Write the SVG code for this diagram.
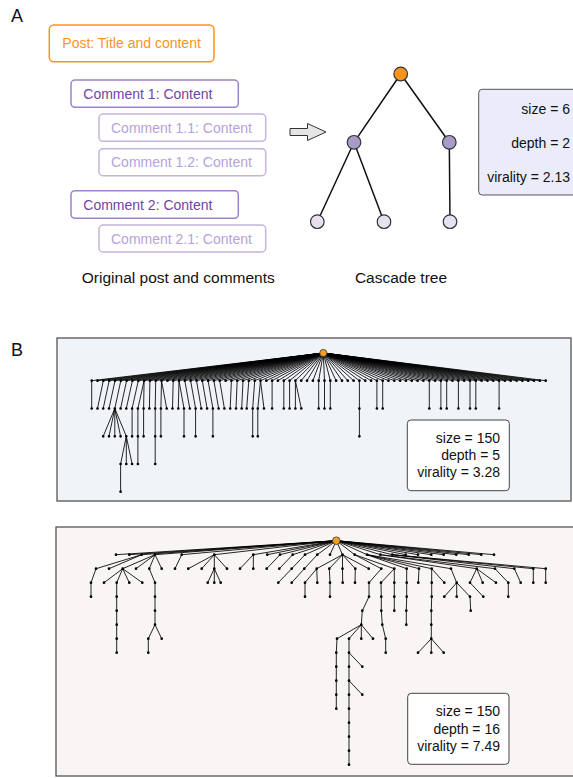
<svg xmlns="http://www.w3.org/2000/svg" width="573" height="778" viewBox="0 0 573 778">
<style>
text{font-family:"Liberation Sans",Arial,Helvetica,sans-serif;}
.lbl{font-size:18px;fill:#111;}
.cap{font-size:15.5px;fill:#111;}
.boxtxt{font-size:14px;}
.stat{font-size:14px;fill:#111;text-anchor:end;}
.post{fill:#fff;stroke:#f7941d;stroke-width:1.5;}
.cm1{fill:#fff;stroke:#9d82c8;stroke-width:1.5;}
.cm2{fill:#fff;stroke:#c3b4e0;stroke-width:1.5;}
.tA{stroke:#111;stroke-width:1.5;fill:none;}
.nA{stroke:#333;stroke-width:1.2;}
.e{stroke:#000;stroke-width:0.95;stroke-opacity:0.9;fill:none;}
.dots{stroke:#000;stroke-width:2.7;stroke-linecap:round;fill:none;}
.rootB{fill:#f7a01b;stroke:#333;stroke-width:0.8;}
.sbox{fill:#fff;stroke:#444;stroke-width:1;}
</style>

<!-- Panel labels -->
<text class="lbl" x="11" y="22">A</text>
<text class="lbl" x="11" y="356">B</text>

<!-- Panel A: post and comments -->
<g id="post"><rect class="post" x="49.3" y="25" width="164.7" height="36.7" rx="4.5"/><text class="boxtxt" x="62.3" y="48.3" fill="#f7941d">Post: Title and content</text></g>
<g id="comment-1"><rect class="cm1" x="71" y="80" width="167.3" height="27.3" rx="4"/><text class="boxtxt" x="83.3" y="99" fill="#6f45a5">Comment 1: Content</text></g>
<g id="comment-1-1"><rect class="cm2" x="99" y="114" width="166.7" height="27.3" rx="4"/><text class="boxtxt" x="111" y="133" fill="#b5a3da">Comment 1.1: Content</text></g>
<g id="comment-1-2"><rect class="cm2" x="99" y="148.7" width="166.7" height="27" rx="4"/><text class="boxtxt" x="111" y="167.3" fill="#b5a3da">Comment 1.2: Content</text></g>
<g id="comment-2"><rect class="cm1" x="71" y="190.7" width="167.3" height="27.6" rx="4"/><text class="boxtxt" x="83.3" y="209.5" fill="#6f45a5">Comment 2: Content</text></g>
<g id="comment-2-1"><rect class="cm2" x="99" y="225" width="166.7" height="27" rx="4"/><text class="boxtxt" x="111" y="243.5" fill="#b5a3da">Comment 2.1: Content</text></g>
<text class="cap" x="178.3" y="282.7" text-anchor="middle">Original post and comments</text>

<!-- Arrow -->
<g id="arrow"><polygon points="290,128.5 307.5,128.5 307.5,123.5 326,132 307.5,140.5 307.5,135.5 290,135.5" fill="#e6e6e6" stroke="#333" stroke-width="1"/></g>

<!-- Panel A cascade tree connectors -->
<g id="connectors-A">
<path class="tA" d="M400.7 74L354 142.3M400.7 74L449.3 142.3M354 142.3L317.3 221.7M354 142.3L384 221.7M449.3 142.3L450 221.7"/>
</g>
<g id="nodeA-root"><circle class="nA" cx="400.7" cy="74" r="6.8" fill="#f7941d"/></g>
<g id="nodeA-1"><circle class="nA" cx="354" cy="142.3" r="6.8" fill="#a99bc9"/></g>
<g id="nodeA-2"><circle class="nA" cx="449.3" cy="142.3" r="6.8" fill="#a99bc9"/></g>
<g id="nodeA-1-1"><circle class="nA" cx="317.3" cy="221.7" r="6.8" fill="#e6e0f0"/></g>
<g id="nodeA-1-2"><circle class="nA" cx="384" cy="221.7" r="6.8" fill="#e6e0f0"/></g>
<g id="nodeA-2-1"><circle class="nA" cx="450" cy="221.7" r="6.8" fill="#e6e0f0"/></g>
<text class="cap" x="401" y="283" text-anchor="middle">Cascade tree</text>

<g id="statsA"><rect x="478.7" y="89.3" width="110" height="105.7" rx="3.5" fill="#ebebfa" stroke="#555" stroke-width="1"/>
<text class="stat" x="570" y="113.5">size = 6</text>
<text class="stat" x="570" y="147.5">depth = 2</text>
<text class="stat" x="570" y="182.3">virality = 2.13</text></g>

<!-- Panel B top -->
<rect x="57" y="338" width="514" height="163" fill="#f0f4f8" stroke="#555" stroke-width="1.3"/>
<g id="connectors-B1">
<path class="e" d="M323.3 353L91.7 380.7M323.3 353L97.5 380.7M323.3 353L103.3 380.7M323.3 353L109.2 380.7M323.3 353L115 380.7M323.3 353L120.8 380.7M323.3 353L126.6 380.7M323.3 353L132.4 380.7M323.3 353L138.3 380.7M323.3 353L144.1 380.7M323.3 353L149.9 380.7M323.3 353L155.7 380.7M323.3 353L161.5 380.7M323.3 353L167.4 380.7M323.3 353L173.2 380.7M323.3 353L179 380.7M323.3 353L184.8 380.7M323.3 353L190.6 380.7M323.3 353L196.5 380.7M323.3 353L202.3 380.7M323.3 353L208.1 380.7M323.3 353L213.9 380.7M323.3 353L219.7 380.7M323.3 353L225.6 380.7M323.3 353L231.4 380.7M323.3 353L237.2 380.7M323.3 353L243 380.7M323.3 353L248.8 380.7M323.3 353L254.7 380.7M323.3 353L260.5 380.7M323.3 353L266.3 380.7M323.3 353L272.1 380.7M323.3 353L277.9 380.7M323.3 353L283.8 380.7M323.3 353L289.6 380.7M323.3 353L295.4 380.7M323.3 353L301.2 380.7M323.3 353L307 380.7M323.3 353L312.9 380.7M323.3 353L318.7 380.7M323.3 353L324.5 380.7M323.3 353L330.3 380.7M323.3 353L336.1 380.7M323.3 353L342 380.7M323.3 353L347.8 380.7M323.3 353L353.6 380.7M323.3 353L359.4 380.7M323.3 353L365.2 380.7M323.3 353L371.1 380.7M323.3 353L376.9 380.7M323.3 353L382.7 380.7M323.3 353L388.5 380.7M323.3 353L394.3 380.7M323.3 353L400.2 380.7M323.3 353L406 380.7M323.3 353L411.8 380.7M323.3 353L417.6 380.7M323.3 353L423.4 380.7M323.3 353L429.3 380.7M323.3 353L435.1 380.7M323.3 353L440.9 380.7M323.3 353L446.7 380.7M323.3 353L452.5 380.7M323.3 353L458.4 380.7M323.3 353L464.2 380.7M323.3 353L470 380.7M323.3 353L475.8 380.7M323.3 353L481.6 380.7M323.3 353L487.5 380.7M323.3 353L493.3 380.7M323.3 353L499.1 380.7M323.3 353L504.9 380.7M323.3 353L510.7 380.7M323.3 353L516.6 380.7M323.3 353L522.4 380.7M323.3 353L528.2 380.7M323.3 353L534 380.7M323.3 353L539.8 380.7M323.3 353L545.7 380.7"/>
<path class="e" d="M91.7 380.7L91.7 408.5M103.3 380.7L97.5 408.5M109.2 380.7L103.2 408.5M115 380.7L109 408.5M120.8 380.7L114.8 408.5M126.6 380.7L120.6 408.5M132.4 380.7L126.3 408.5M138.3 380.7L132.1 408.5M144.1 380.7L137.9 408.5M144.1 380.7L143.6 408.5M149.9 380.7L149.4 408.5M155.7 380.7L155.2 408.5M161.5 380.7L160.9 408.5M161.5 380.7L166.7 408.5M173.2 380.7L172.5 408.5M179 380.7L178.3 408.5M179 380.7L184 408.5M184.8 380.7L189.8 408.5M190.6 380.7L195.6 408.5M196.5 380.7L201.3 408.5M202.3 380.7L207.1 408.5M208.1 380.7L212.9 408.5M213.9 380.7L218.6 408.5M219.7 380.7L224.4 408.5M231.4 380.7L230.2 408.5M237.2 380.7L236 408.5M243 380.7L241.7 408.5M248.8 380.7L246.7 408.5M254.7 380.7L252.7 408.5M260.5 380.7L257.8 408.5M260.5 380.7L264 408.5M272.1 380.7L272.1 408.5M283.8 380.7L283.8 408.5M289.6 380.7L289.6 408.5M295.4 380.7L295.4 408.5M295.4 380.7L301.3 408.5M318.7 380.7L318.7 408.5M324.5 380.7L324.5 408.5M330.3 380.7L330.3 408.5M359.4 380.7L359.4 408.5M376.9 380.7L376.9 408.5M382.7 380.7L382.7 408.5M429.3 380.7L429.3 408.5M440.9 380.7L440.9 408.5M446.7 380.7L446.7 408.5M458.4 380.7L458.4 408.5M470 380.7L470 408.5M475.8 380.7L475.8 408.5M499.1 380.7L499.1 408.5"/>
<path class="e" d="M114.8 408.5L103.2 436.3M114.8 408.5L109 436.3M114.8 408.5L114.8 436.3M114.8 408.5L120.6 436.3M114.8 408.5L126.3 436.3M132.1 408.5L132.1 436.3M137.9 408.5L137.9 436.3M143.6 408.5L143.6 436.3M155.2 408.5L155.2 436.3M160.9 408.5L160.9 436.3M184 408.5L184 436.3M195.6 408.5L195.6 436.3M212.9 408.5L212.9 436.3M252.7 408.5L252.7 436.3M257.8 408.5L257.8 436.3M359.4 408.5L359.4 436.3M126.3 436.3L120.6 464M126.3 436.3L126.3 464M126.3 436.3L132.1 464M137.9 436.3L137.9 464M155.2 436.3L155.2 464M120.6 464L120.6 491.7"/>
</g>
<g id="nodes-B1">
<path class="dots" d="M91.7 380.7h0M97.5 380.7h0M103.3 380.7h0M109.2 380.7h0M115 380.7h0M120.8 380.7h0M126.6 380.7h0M132.4 380.7h0M138.3 380.7h0M144.1 380.7h0M149.9 380.7h0M155.7 380.7h0M161.5 380.7h0M167.4 380.7h0M173.2 380.7h0M179 380.7h0M184.8 380.7h0M190.6 380.7h0M196.5 380.7h0M202.3 380.7h0M208.1 380.7h0M213.9 380.7h0M219.7 380.7h0M225.6 380.7h0M231.4 380.7h0M237.2 380.7h0M243 380.7h0M248.8 380.7h0M254.7 380.7h0M260.5 380.7h0M266.3 380.7h0M272.1 380.7h0M277.9 380.7h0M283.8 380.7h0M289.6 380.7h0M295.4 380.7h0M301.2 380.7h0M307 380.7h0M312.9 380.7h0M318.7 380.7h0M324.5 380.7h0M330.3 380.7h0M336.1 380.7h0M342 380.7h0M347.8 380.7h0M353.6 380.7h0M359.4 380.7h0M365.2 380.7h0M371.1 380.7h0M376.9 380.7h0M382.7 380.7h0M388.5 380.7h0M394.3 380.7h0M400.2 380.7h0M406 380.7h0M411.8 380.7h0M417.6 380.7h0M423.4 380.7h0M429.3 380.7h0M435.1 380.7h0M440.9 380.7h0M446.7 380.7h0M452.5 380.7h0M458.4 380.7h0M464.2 380.7h0M470 380.7h0M475.8 380.7h0M481.6 380.7h0M487.5 380.7h0M493.3 380.7h0M499.1 380.7h0M504.9 380.7h0M510.7 380.7h0M516.6 380.7h0M522.4 380.7h0M528.2 380.7h0M534 380.7h0M539.8 380.7h0M545.7 380.7h0"/>
<path class="dots" d="M91.7 408.5h0M97.5 408.5h0M103.2 408.5h0M109 408.5h0M114.8 408.5h0M120.6 408.5h0M126.3 408.5h0M132.1 408.5h0M137.9 408.5h0M143.6 408.5h0M149.4 408.5h0M155.2 408.5h0M160.9 408.5h0M166.7 408.5h0M172.5 408.5h0M178.3 408.5h0M184 408.5h0M189.8 408.5h0M195.6 408.5h0M201.3 408.5h0M207.1 408.5h0M212.9 408.5h0M218.6 408.5h0M224.4 408.5h0M230.2 408.5h0M236 408.5h0M241.7 408.5h0M246.7 408.5h0M252.7 408.5h0M257.8 408.5h0M264 408.5h0M272.1 408.5h0M283.8 408.5h0M289.6 408.5h0M295.4 408.5h0M301.3 408.5h0M318.7 408.5h0M324.5 408.5h0M330.3 408.5h0M359.4 408.5h0M376.9 408.5h0M382.7 408.5h0M429.3 408.5h0M440.9 408.5h0M446.7 408.5h0M458.4 408.5h0M470 408.5h0M475.8 408.5h0M499.1 408.5h0"/>
<path class="dots" d="M103.2 436.3h0M109 436.3h0M114.8 436.3h0M120.6 436.3h0M126.3 436.3h0M132.1 436.3h0M137.9 436.3h0M143.6 436.3h0M155.2 436.3h0M160.9 436.3h0M184 436.3h0M195.6 436.3h0M212.9 436.3h0M252.7 436.3h0M257.8 436.3h0M359.4 436.3h0M120.6 464h0M126.3 464h0M132.1 464h0M137.9 464h0M155.2 464h0M120.6 491.7h0"/>
<circle class="rootB" cx="323.3" cy="353" r="3.6"/>
</g>
<g id="statsB1"><rect class="sbox" x="407.3" y="420" width="102" height="70.7" rx="3.5"/>
<text class="stat" x="500" y="442.5">size = 150</text>
<text class="stat" x="500" y="459.7">depth = 5</text>
<text class="stat" x="500" y="477.3">virality = 3.28</text></g>

<!-- Panel B bottom -->
<rect x="56" y="527" width="530" height="249" fill="#f9f5f4" stroke="#555" stroke-width="1.3"/>
<g id="connectors-B2">
<path class="e" d="M336.3 540.7L116 554.7M336.3 540.7L129.3 554.7M336.3 540.7L141.7 554.7M336.3 540.7L155 554.7M336.3 540.7L181.7 554.7M336.3 540.7L214.3 554.7M336.3 540.7L253.3 554.7M336.3 540.7L267.3 554.7M336.3 540.7L280 554.7M336.3 540.7L292.7 554.7M336.3 540.7L305 554.7M336.3 540.7L317.3 554.7M336.3 540.7L330 554.7M336.3 540.7L342.5 554.7M336.3 540.7L354.7 554.7M336.3 540.7L367 554.7M336.3 540.7L380.3 554.7M336.3 540.7L392.3 554.7M336.3 540.7L405.7 554.7M336.3 540.7L418 554.7M336.3 540.7L431.3 554.7M336.3 540.7L443.7 554.7M336.3 540.7L456.3 554.7M336.3 540.7L468.7 554.7M336.3 540.7L481.3 554.7M336.3 540.7L494 554.7"/>
<path class="e" d="M141.7 554.7L96 568.7M141.7 554.7L109 568.7M155 554.7L122.7 568.7M155 554.7L136 568.7M155 554.7L149.3 568.7M155 554.7L161.7 568.7M181.7 554.7L175 568.7M214.3 554.7L188.3 568.7M214.3 554.7L201.7 568.7M214.3 554.7L214.3 568.7M214.3 554.7L227 568.7M253.3 554.7L240 568.7M253.3 554.7L253.3 568.7M280 554.7L266.7 568.7M292.7 554.7L279.3 568.7M305 554.7L291.7 568.7M317.3 554.7L304.3 568.7M342.5 554.7L316.7 568.7M342.5 554.7L329.3 568.7M342.5 554.7L342.5 568.7M342.5 554.7L355.3 568.7M342.5 554.7L368.7 568.7M354.7 554.7L381.3 568.7M354.7 554.7L394.3 568.7M367 554.7L406.7 568.7M367 554.7L419 568.7M367 554.7L431.7 568.7M367 554.7L451 568.7M380.3 554.7L476.7 568.7M380.3 554.7L495 568.7M392.3 554.7L514.3 568.7M392.3 554.7L533.3 568.7M392.3 554.7L545.7 568.7"/>
<path class="e" d="M96 568.7L91 582.7M122.7 568.7L104 582.7M122.7 568.7L116.7 582.7M122.7 568.7L129.3 582.7M122.7 568.7L142.3 582.7M149.3 568.7L155 582.7M214.3 568.7L207.7 582.7M214.3 568.7L214.3 582.7M214.3 568.7L220.7 582.7M291.7 568.7L278.3 582.7M304.3 568.7L291.7 582.7M316.7 568.7L305 582.7M316.7 568.7L317.3 582.7M329.3 568.7L330 582.7M342.5 568.7L342.7 582.7M355.3 568.7L355 582.7M381.3 568.7L369 582.7M394.3 568.7L381 582.7M394.3 568.7L394.3 582.7M406.7 568.7L406.7 582.7M419 568.7L418.3 582.7M431.7 568.7L431.7 582.7M431.7 568.7L444.3 582.7M451 568.7L456.7 582.7M476.7 568.7L470 582.7M476.7 568.7L482.7 582.7M476.7 568.7L496 582.7M495 568.7L508.3 582.7M514.3 568.7L520.7 582.7M533.3 568.7L533.3 582.7M545.7 568.7L545.7 582.7"/>
<path class="e" d="M91 582.7L91 596.7M116.7 582.7L116.7 596.7M155 582.7L155 596.7M305 582.7L305 596.7M330 582.7L330 596.7M369 582.7L369 596.7M381 582.7L381.3 596.7M394.3 582.7L394.3 596.7M406.7 582.7L406.7 596.7M431.7 582.7L431.7 596.7M456.7 582.7L444.3 596.7M456.7 582.7L456.7 596.7M456.7 582.7L470 596.7M470 582.7L483.3 596.7M508.3 582.7L508.3 596.7M116.7 596.7L116.7 610.7M155 596.7L155 610.7M369 596.7L362.3 610.7M381.3 596.7L381.3 610.7M394.3 596.7L394.3 610.7M406.7 596.7L406.3 610.7M431.7 596.7L431.3 610.7M470 596.7L470.7 610.7M116.7 610.7L116.7 624.7M155 610.7L155 624.7M362.3 610.7L361.3 624.7M381.3 610.7L382.3 624.7M406.3 610.7L406.3 624.7M431.3 610.7L431.3 624.7M116.7 624.7L116.7 638.7M155 624.7L148.3 638.7M155 624.7L161.7 638.7M361.3 624.7L337 638.7M361.3 624.7L349 638.7M361.3 624.7L361.3 638.7M361.3 624.7L373 638.7M382.3 624.7L385.7 638.7M431.3 624.7L431.3 638.7M116.7 638.7L116.7 652.7M148.3 638.7L148.3 652.7M337 638.7L336.3 652.7M349 638.7L349 652.7M385.7 638.7L385.7 652.7M431.3 638.7L418 652.7M431.3 638.7L431.3 652.7M431.3 638.7L443.7 652.7M336.3 652.7L336.3 708.7M349 652.7L349 764.7M349 652.7L362.3 666.7M349 680.7L362.3 694.7"/>
</g>
<g id="nodes-B2">
<path class="dots" d="M116 554.7h0M129.3 554.7h0M141.7 554.7h0M155 554.7h0M181.7 554.7h0M214.3 554.7h0M253.3 554.7h0M267.3 554.7h0M280 554.7h0M292.7 554.7h0M305 554.7h0M317.3 554.7h0M330 554.7h0M342.5 554.7h0M354.7 554.7h0M367 554.7h0M380.3 554.7h0M392.3 554.7h0M405.7 554.7h0M418 554.7h0M431.3 554.7h0M443.7 554.7h0M456.3 554.7h0M468.7 554.7h0M481.3 554.7h0M494 554.7h0"/>
<path class="dots" d="M96 568.7h0M109 568.7h0M122.7 568.7h0M136 568.7h0M149.3 568.7h0M161.7 568.7h0M175 568.7h0M188.3 568.7h0M201.7 568.7h0M214.3 568.7h0M227 568.7h0M240 568.7h0M253.3 568.7h0M266.7 568.7h0M279.3 568.7h0M291.7 568.7h0M304.3 568.7h0M316.7 568.7h0M329.3 568.7h0M342.5 568.7h0M355.3 568.7h0M368.7 568.7h0M381.3 568.7h0M394.3 568.7h0M406.7 568.7h0M419 568.7h0M431.7 568.7h0M451 568.7h0M476.7 568.7h0M495 568.7h0M514.3 568.7h0M533.3 568.7h0M545.7 568.7h0"/>
<path class="dots" d="M91 582.7h0M104 582.7h0M116.7 582.7h0M129.3 582.7h0M142.3 582.7h0M155 582.7h0M207.7 582.7h0M214.3 582.7h0M220.7 582.7h0M278.3 582.7h0M291.7 582.7h0M305 582.7h0M317.3 582.7h0M330 582.7h0M342.7 582.7h0M355 582.7h0M369 582.7h0M381 582.7h0M394.3 582.7h0M406.7 582.7h0M418.3 582.7h0M431.7 582.7h0M444.3 582.7h0M456.7 582.7h0M470 582.7h0M482.7 582.7h0M496 582.7h0M508.3 582.7h0M520.7 582.7h0M533.3 582.7h0M545.7 582.7h0"/>
<path class="dots" d="M91 596.7h0M116.7 596.7h0M155 596.7h0M305 596.7h0M330 596.7h0M369 596.7h0M381.3 596.7h0M394.3 596.7h0M406.7 596.7h0M431.7 596.7h0M444.3 596.7h0M456.7 596.7h0M470 596.7h0M483.3 596.7h0M508.3 596.7h0M116.7 610.7h0M155 610.7h0M362.3 610.7h0M381.3 610.7h0M394.3 610.7h0M406.3 610.7h0M431.3 610.7h0M470.7 610.7h0M116.7 624.7h0M155 624.7h0M361.3 624.7h0M382.3 624.7h0M406.3 624.7h0M431.3 624.7h0"/>
<path class="dots" d="M116.7 638.7h0M148.3 638.7h0M161.7 638.7h0M337 638.7h0M349 638.7h0M361.3 638.7h0M373 638.7h0M385.7 638.7h0M431.3 638.7h0M116.7 652.7h0M148.3 652.7h0M336.3 652.7h0M349 652.7h0M385.7 652.7h0M418 652.7h0M431.3 652.7h0M443.7 652.7h0M336.3 666.7h0M349 666.7h0M362.3 666.7h0M336.3 680.7h0M349 680.7h0M336.3 694.7h0M349 694.7h0M362.3 694.7h0M336.3 708.7h0M349 708.7h0M349 722.7h0M349 736.7h0M349 750.7h0M349 764.7h0"/>
<circle class="rootB" cx="336.3" cy="540.7" r="3.8"/>
</g>
<g id="statsB2"><rect class="sbox" x="407.7" y="693.3" width="101.3" height="71" rx="3.5"/>
<text class="stat" x="500" y="716">size = 150</text>
<text class="stat" x="500" y="733.5">depth = 16</text>
<text class="stat" x="500" y="751">virality = 7.49</text></g>
</svg>
